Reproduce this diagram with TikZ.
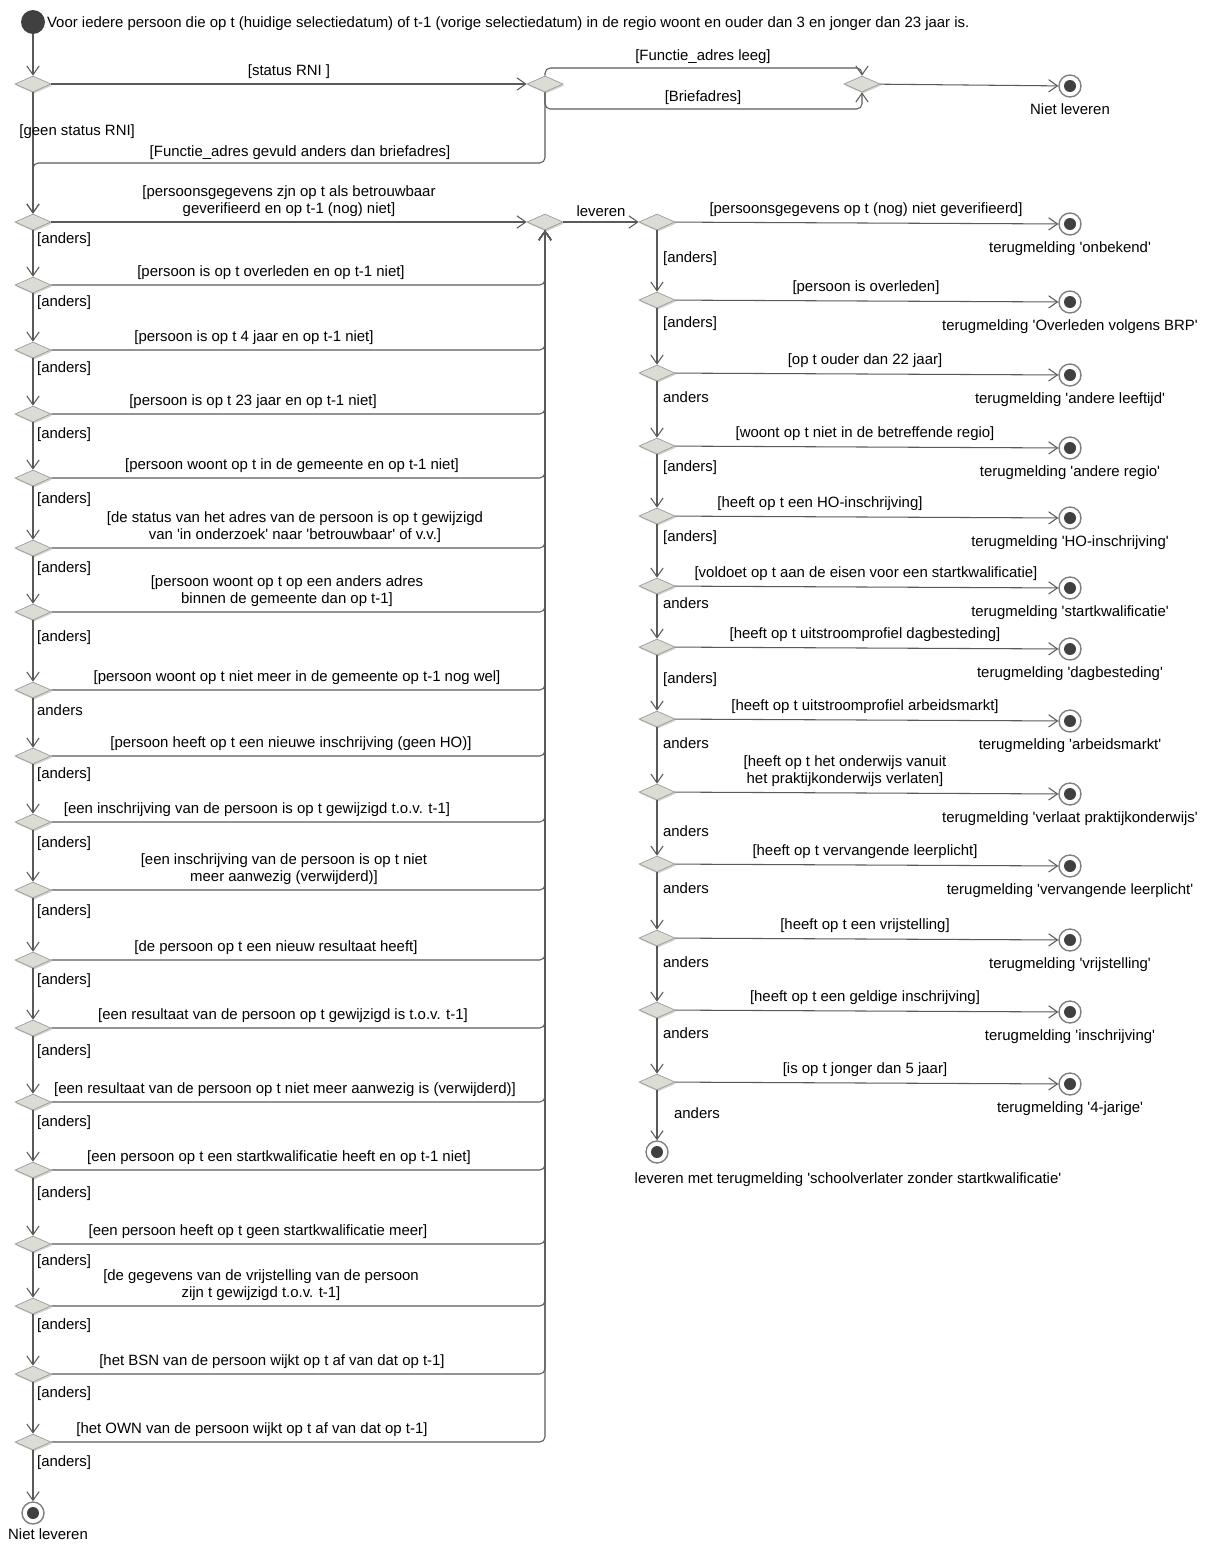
\documentclass[tikz,border=0pt]{standalone}
\usepackage{fontspec}
\setmainfont{Liberation Sans}
\usetikzlibrary{shapes.geometric,arrows.meta,shadows}
\definecolor{linegray}{HTML}{5A5A5A}
\definecolor{diafill}{HTML}{DCDCD4}
\definecolor{diaborder}{HTML}{9A9A9A}
\newcommand{\apo}{\textquotesingle}
\begin{document}
\begin{tikzpicture}[x=0.02cm, y=-0.02cm, font=\fontsize{8.5}{9.6}\selectfont,
    decision/.style={diamond, draw=diaborder, fill=diafill, minimum width=0.72cm, minimum height=0.32cm, inner sep=0pt,
        drop shadow={shadow xshift=0.6pt, shadow yshift=-0.9pt, fill=gray!70}},
    final/.style={circle, draw=gray, fill=white, line width=0.8pt, minimum size=0.44cm, inner sep=0pt,
        path picture={\fill[black!75] (path picture bounding box.center) circle (0.12cm);}},
    initial/.style={circle, fill=black!75, minimum size=0.48cm, inner sep=0pt},
    flow/.style={draw=linegray, line width=0.6pt, -{Straight Barb[length=5pt,width=7pt]}},
    guard/.style={inner sep=1pt, align=center}]

        \useasboundingbox (0,0) rectangle (1205,1545);

        \node[initial] (start) at (33,22) {};
        \node[guard, anchor=west] (intro) at (45,24) {Voor iedere persoon die op t (huidige selectiedatum) of t-1 (vorige selectiedatum) in de regio woont en ouder dan 3 en jonger dan 23 jaar is.};

        \node[decision] (d0) at (33,84) {};
        \node[decision] (m0) at (545,84) {};
        \node[decision] (j0) at (862,84) {};
        \node[final] (e0) at (1070,86) {};
        \node[guard, anchor=north] (t0) at ([yshift=-2pt]e0.south) {Niet leveren};
        \coordinate (hi) at (700,68);
        \coordinate (lo) at (700,109);
        \coordinate (back) at (300,163);

        \draw[flow] (start) -- (d0);
        \draw[flow] (d0) -- node[guard, above=2pt] {[status RNI ]} (m0);
        \draw[flow, rounded corners=3pt] (m0.north) |- (hi) -| (j0.north);
        \draw[flow, rounded corners=3pt] (m0.south) |- (lo) -| (j0.south);
        \node[guard, anchor=south] at (703,66) {[Functie\_adres leeg]};
        \node[guard, anchor=south] at (703,107) {[Briefadres]};
        \draw[flow] (j0) -- (e0);

        \node[decision] (mg) at (545,222) {};
        \foreach \i/\yy/\lx/\lbl/\ay/\atxt in {
            1/222/289/{[persoonsgegevens zjn op t als betrouwbaar\\geverifieerd en op t-1 (nog) niet]}/240/{[anders]},
            2/285/271/{[persoon is op t overleden en op t-1 niet]}/303/{[anders]},
            3/350/254/{[persoon is op t 4 jaar en op t-1 niet]}/369/{[anders]},
            4/414/253/{[persoon is op t 23 jaar en op t-1 niet]}/435/{[anders]},
            5/478/292/{[persoon woont op t in de gemeente en op t-1 niet]}/500/{[anders]},
            6/548/295/{[de status van het adres van de persoon is op t gewijzigd\\van \apo in onderzoek\apo{} naar \apo betrouwbaar\apo{} of v.v.]}/569/{[anders]},
            7/612/287/{[persoon woont op t op een anders adres\\binnen de gemeente dan op t-1]}/638/{[anders]},
            8/690/297/{[persoon woont op t niet meer in de gemeente op t-1 nog wel]}/710/{anders},
            9/756/291/{[persoon heeft op t een nieuwe inschrijving (geen HO)]}/775/{[anders]},
            10/822/257/{[een inschrijving van de persoon is op t gewijzigd t.o.v. t-1]}/844/{[anders]},
            11/890/284/{[een inschrijving van de persoon is op t niet\\meer aanwezig (verwijderd)]}/912/{[anders]},
            12/960/276/{[de persoon op t een nieuw resultaat heeft]}/981/{[anders]},
            13/1028/283/{[een resultaat van de persoon op t gewijzigd is t.o.v. t-1]}/1052/{[anders]},
            14/1102/285/{[een resultaat van de persoon op t niet meer aanwezig is (verwijderd)]}/1123/{[anders]},
            15/1170/279/{[een persoon op t een startkwalificatie heeft en op t-1 niet]}/1194/{[anders]},
            16/1244/258/{[een persoon heeft op t geen startkwalificatie meer]}/1262/{[anders]},
            17/1306/261/{[de gegevens van de vrijstelling van de persoon\\zijn t gewijzigd t.o.v. t-1]}/1326/{[anders]},
            18/1374/272/{[het BSN van de persoon wijkt op t af van dat op t-1]}/1394/{[anders]},
            19/1442/252/{[het OWN van de persoon wijkt op t af van dat op t-1]}/1463/{[anders]}}
            {
                \node[decision] (dl\i) at (33,\yy) {};
                \node[guard, anchor=south] (gl\i) at (\lx,\yy-3) {\lbl};
                \node[guard, anchor=west] (al\i) at (35,\ay) {\atxt};
            }
        \node[final] (nl) at (33,1513) {};
        \node[guard, anchor=north] (tnl) at (48,1527) {Niet leveren};

        \draw[flow] (d0) -- node[guard, pos=0.32, anchor=west, xshift=-9pt] {[geen status RNI]} (dl1);
        \draw[flow, rounded corners=3pt] (m0.south) |- (back) -| (dl1.north);
        \node[guard, anchor=south] at (300,162) {[Functie\_adres gevuld anders dan briefadres]};
        \draw[flow] (dl1) -- (mg);
        \foreach \i in {2,...,19}
            {
                \draw[flow, rounded corners=3pt] (dl\i.east) -| (mg.south);
            }
        \foreach \i in {1,...,18}
            {
                \pgfmathtruncatemacro{\j}{\i+1}
                \draw[flow] (dl\i) -- (dl\j);
            }
        \draw[flow] (dl19) -- (nl);

        \foreach \i/\yy/\lx/\lbl/\term/\ax/\ay/\atxt in {
            1/222/866/{[persoonsgegevens op t (nog) niet geverifieerd]}/{onbekend}/661/259/{[anders]},
            2/300/866/{[persoon is overleden]}/{Overleden volgens BRP}/661/324/{[anders]},
            3/373/865/{[op t ouder dan 22 jaar]}/{andere leeftijd}/661/397/{anders},
            4/446/865/{[woont op t niet in de betreffende regio]}/{andere regio}/661/468/{[anders]},
            5/516/820/{[heeft op t een HO-inschrijving]}/{HO-inschrijving}/661/538/{[anders]},
            6/586/866/{[voldoet op t aan de eisen voor een startkwalificatie]}/{startkwalificatie}/661/603/{anders},
            7/647/865/{[heeft op t uitstroomprofiel dagbesteding]}/{dagbesteding}/661/680/{[anders]},
            8/719/865/{[heeft op t uitstroomprofiel arbeidsmarkt]}/{arbeidsmarkt}/661/743/{anders},
            9/792/845/{[heeft op t het onderwijs vanuit\\het praktijkonderwijs verlaten]}/{verlaat praktijkonderwijs}/661/831/{anders},
            10/864/865/{[heeft op t vervangende leerplicht]}/{vervangende leerplicht}/661/888/{anders},
            11/938/865/{[heeft op t een vrijstelling]}/{vrijstelling}/661/962/{anders},
            12/1010/865/{[heeft op t een geldige inschrijving]}/{inschrijving}/661/1033/{anders},
            13/1082/865/{[is op t jonger dan 5 jaar]}/{4-jarige}/672/1113/{anders}}
            {
                \node[decision] (dr\i) at (657,\yy) {};
                \node[final] (er\i) at (1070,\yy+2) {};
                \node[guard, anchor=north] (tr\i) at ([yshift=-2pt]er\i.south) {terugmelding \apo\term\apo};
                \node[guard, anchor=south] (gr\i) at (\lx,\yy-3) {\lbl};
                \node[guard, anchor=west] (ar\i) at (\ax,\ay) {\atxt};
                \draw[flow] (dr\i) -- (er\i);
            }
        \node[final] (fin) at (657,1152) {};
        \node[guard, anchor=north] (tfin) at (848,1171) {leveren met terugmelding \apo schoolverlater zonder startkwalificatie\apo};

        \draw[flow] (mg) -- node[guard, above=2pt] {leveren} (dr1);
        \foreach \i in {1,...,12}
            {
                \pgfmathtruncatemacro{\j}{\i+1}
                \draw[flow] (dr\i) -- (dr\j);
            }
        \draw[flow] (dr13) -- (fin);
    \end{tikzpicture}
\end{document}
